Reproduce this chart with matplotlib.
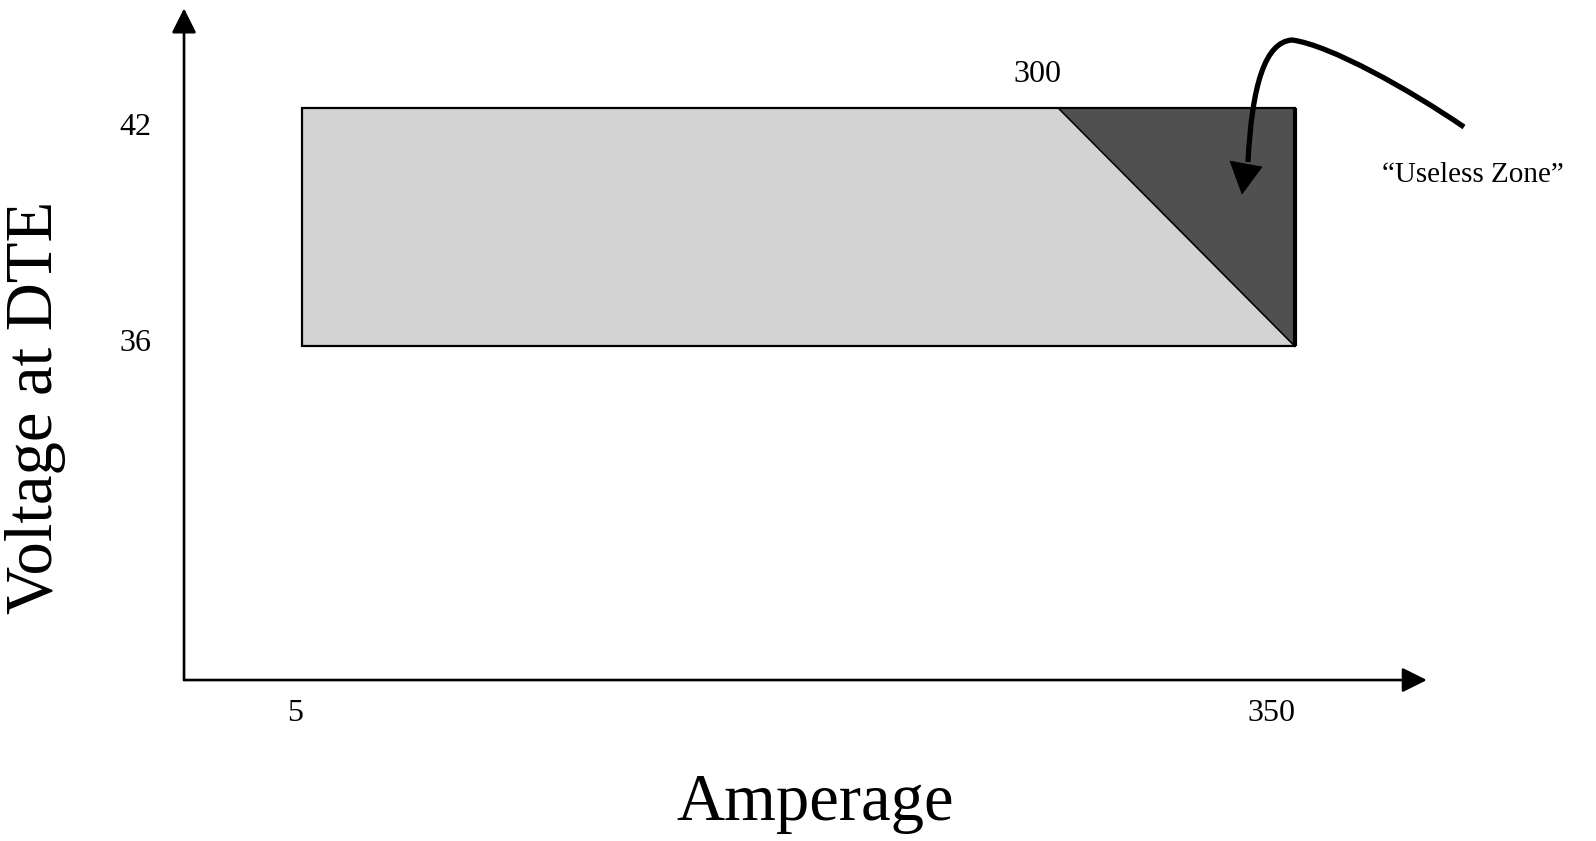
import numpy as np
import matplotlib
matplotlib.use("Agg")
import matplotlib.pyplot as plt
from matplotlib.patches import Polygon, PathPatch
from matplotlib.path import Path

# ---- data ----
amp_min, amp_knee, amp_max = 5, 300, 350
volt_min, volt_max = 36, 42
x_labels = ["5", "350"]
x_label_vals = [5, 350]
y_labels = ["42", "36"]
y_label_vals = [42, 36]
knee_label = "300"
zone_label = "\u201cUseless Zone\u201d"
x_title = "Amperage"
y_title = "Voltage at DTE"

W, H = 1596, 841
plt.rcParams['font.family'] = ['Liberation Serif', 'DejaVu Serif']

fig = plt.figure(figsize=(W / 100, H / 100), dpi=100)
ax = fig.add_axes([0.1153, 0.1914, 0.7787, 0.7986])
ax.patch.set_alpha(0)

KNEE_T = 0.762  # schematic position of the 300 A knee along the box


def fwd(a):
    a = np.asarray(a, dtype=float)
    return np.where(a <= amp_knee,
                    (a - amp_min) / (amp_knee - amp_min) * KNEE_T,
                    KNEE_T + (a - amp_knee) / (amp_max - amp_knee) * (1 - KNEE_T))


def inv(t):
    t = np.asarray(t, dtype=float)
    return np.where(t <= KNEE_T,
                    amp_min + t / KNEE_T * (amp_knee - amp_min),
                    amp_knee + (t - KNEE_T) / (1 - KNEE_T) * (amp_max - amp_knee))


ax.set_xscale('function', functions=(fwd, inv))
ax.set_xlim(float(inv(-0.119)), float(inv(1.133)))
ax.set_ylim(27.58, 44.52)
for s in ax.spines.values():
    s.set_visible(False)
ax.set_xticks([])
ax.set_yticks([])
ax.minorticks_off()

# regions
light = Polygon([(amp_min, volt_min), (amp_min, volt_max), (amp_knee, volt_max), (amp_max, volt_min)],
                closed=True, facecolor='#d3d3d3', edgecolor='none', zorder=1)
dark = Polygon([(amp_knee, volt_max), (amp_max, volt_max), (amp_max, volt_min)],
               closed=True, facecolor='#505050', edgecolor='none', zorder=1)
ax.add_patch(light)
ax.add_patch(dark)
ax.plot([amp_knee, amp_max], [volt_max, volt_min], color='black', lw=1.2, zorder=2)
ax.plot([amp_max, amp_min, amp_min, amp_max], [volt_max, volt_max, volt_min, volt_min],
        color='black', lw=1.6, zorder=3, solid_joinstyle='miter')
ax.plot([amp_max, amp_max], [volt_min, volt_max], color='black', lw=3, zorder=3,
        solid_capstyle='butt')

# axis arrows
arrow = dict(arrowstyle='-|>,head_length=1.0,head_width=0.5', color='black', lw=1.9,
             shrinkA=0, shrinkB=0, mutation_scale=15)
ax.annotate('', xy=(0, 1), xytext=(0, 0), xycoords='axes fraction', arrowprops=arrow)
ax.annotate('', xy=(1, 0), xytext=(0, 0), xycoords='axes fraction', arrowprops=arrow)

fs = 23
xoffs = [-7, -23]
for lab, v, dx in zip(x_labels, x_label_vals, xoffs):
    ax.annotate(lab, xy=(v, 0), xycoords=ax.get_xaxis_transform(), xytext=(dx, -33),
                textcoords='offset pixels', ha='center', va='center', fontsize=fs)
yoffs = [-19, 3]
for lab, v, dy in zip(y_labels, y_label_vals, yoffs):
    ax.annotate(lab, xy=(0, v), xycoords=ax.get_yaxis_transform(), xytext=(-49, dy),
                textcoords='offset pixels', ha='center', va='center', fontsize=fs)
ax.annotate(knee_label, xy=(amp_knee, volt_max), xytext=(-21, 34), textcoords='offset pixels',
            ha='center', va='center', fontsize=fs)

fig.text(1473 / W, 1 - 175 / H, zone_label, ha='center', va='center', fontsize=21)
fig.text(815 / W, 1 - 804 / H, x_title, ha='center', va='center', fontsize=48)
fig.text(36 / W, 1 - 407 / H, y_title, ha='center', va='center', fontsize=48, rotation=90)


# curved pointer (figure pixel coords, y from top)
def P(x, y):
    return (x / W, 1 - y / H)


verts = [P(1464, 127), P(1410, 90), P(1330, 45), P(1292, 40),
         P(1265, 42), P(1252, 85), P(1248, 162)]
codes = [Path.MOVETO, Path.CURVE4, Path.CURVE4, Path.CURVE4,
         Path.CURVE4, Path.CURVE4, Path.CURVE4]
fig.patches.append(PathPatch(Path(verts, codes), facecolor='none', edgecolor='black', lw=3.8,
                             transform=fig.transFigure, figure=fig, capstyle='butt'))
fig.patches.append(Polygon([P(1230, 161), P(1262, 167), P(1242, 194)], closed=True,
                           facecolor='black', edgecolor='black', lw=0.5,
                           transform=fig.transFigure, figure=fig))

fig.savefig('out.png', dpi=100, facecolor='white')
